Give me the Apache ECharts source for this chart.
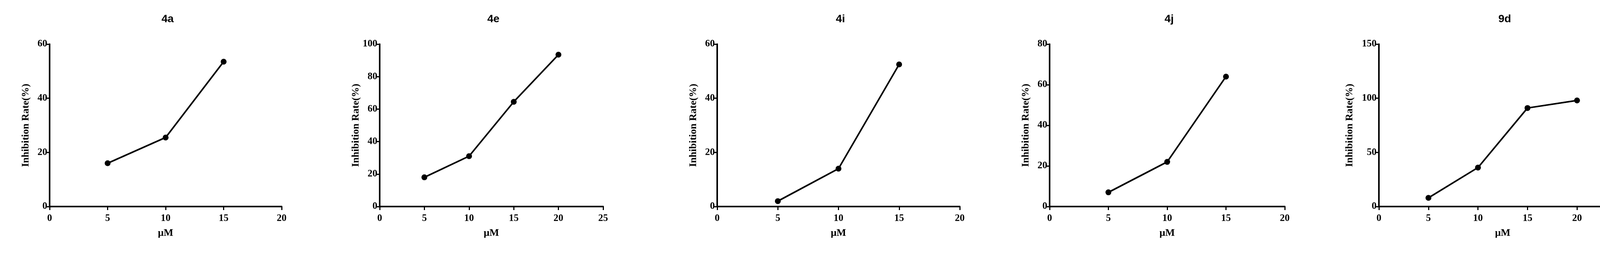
<!DOCTYPE html>
<html><head><meta charset="utf-8">
<script src="https://cdn.jsdelivr.net/npm/echarts@6/dist/echarts.min.js"></script>
<style>html,body{margin:0;padding:0;background:#fff}#c{width:4212px;height:648px}</style>
</head><body><div id="c"></div>
<script>
const titles = ['4a','4e','4i','4j','9d'];
const xValues = [[5,10,15],[5,10,15,20],[5,10,15],[5,10,15],[5,10,15,20]];
const yValues = [[16,25.5,53.5],[18,31,64.5,93.5],[2,14,52.5],[7,22,64],[8,36,91,98]];
const xMax = [20,25,20,20,25];
const yMax = [60,100,60,80,150];
const yInterval = [20,20,20,20,50];
const gridLeft = [127,972,1836,2687,3530];
const gridRight = [721,1544,2457,3289,4164];
const plotTop = 113, plotBottom = 529;
const serif = 'Liberation Serif';
const grids=[],xs=[],ys=[],series=[],tt=[];
titles.forEach((t,i)=>{
  grids.push({left:gridLeft[i],width:gridRight[i]-gridLeft[i],top:plotTop,height:plotBottom-plotTop});
  const axisCommon = {axisLine:{lineStyle:{color:'#000',width:4}},axisTick:{show:true,length:9,lineStyle:{color:'#000',width:3}},
    axisLabel:{color:'#000',fontFamily:serif,fontWeight:'bold',fontSize:25},splitLine:{show:false},
    nameTextStyle:{color:'#000',fontFamily:serif,fontWeight:'bold',fontSize:26}};
  xs.push(Object.assign({type:'value',gridIndex:i,min:0,max:xMax[i],interval:5,name:'μM',nameLocation:'middle',nameGap:55},axisCommon,{axisLabel:Object.assign({},axisCommon.axisLabel,{margin:18})}));
  ys.push(Object.assign({type:'value',gridIndex:i,min:0,max:yMax[i],interval:yInterval[i],name:'Inhibition Rate(%)',nameLocation:'middle',nameGap:i===4?62:48},axisCommon,{axisLabel:Object.assign({},axisCommon.axisLabel,{margin:6})}));
  series.push({type:'line',xAxisIndex:i,yAxisIndex:i,data:xValues[i].map((x,j)=>[x,yValues[i][j]]),
    symbol:'circle',symbolSize:15,lineStyle:{color:'#000',width:4},itemStyle:{color:'#000'},animation:false});
  tt.push({text:t,left:(gridLeft[i]+gridRight[i])/2,top:30,textAlign:'center',textStyle:{fontFamily:'Liberation Sans',fontWeight:'bold',fontSize:28,color:'#000'}});
});
const chart = echarts.init(document.getElementById('c'));
chart.setOption({animation:false,title:tt,grid:grids,xAxis:xs,yAxis:ys,series:series});
</script></body></html>
